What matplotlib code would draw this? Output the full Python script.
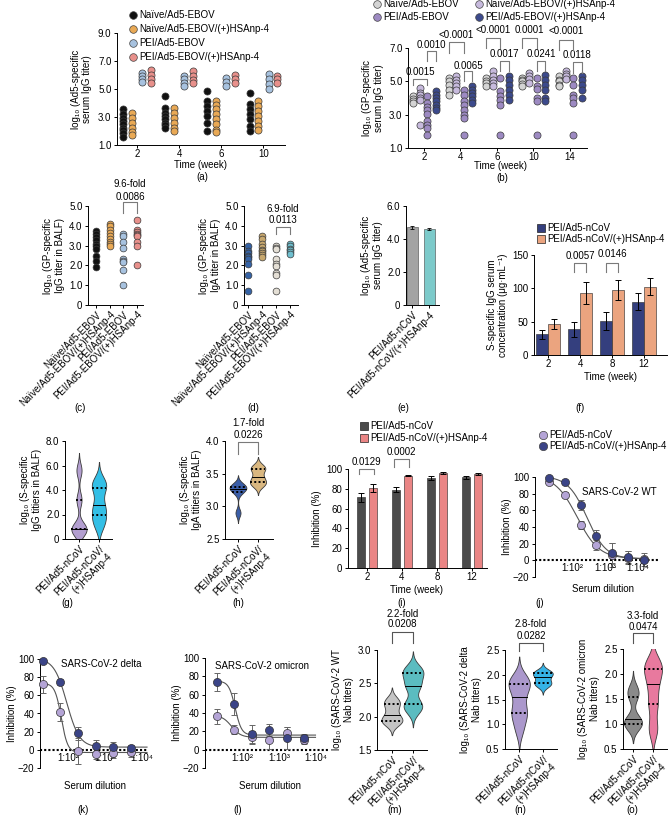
import numpy as np
import matplotlib
matplotlib.use('Agg')
import matplotlib.pyplot as plt
from matplotlib.lines import Line2D

plt.rcParams['font.family'] = ['Liberation Sans', 'DejaVu Sans']
plt.rcParams['font.size'] = 7
plt.rcParams['axes.linewidth'] = 0.7
plt.rcParams['xtick.major.width'] = 0.7
plt.rcParams['ytick.major.width'] = 0.7
plt.rcParams['xtick.major.size'] = 2.2
plt.rcParams['ytick.major.size'] = 2.5
plt.rcParams['xtick.major.pad'] = 1.0
plt.rcParams['ytick.major.pad'] = 1.5
plt.rcParams['axes.labelpad'] = 2
plt.rcParams['axes.spines.top'] = False
plt.rcParams['axes.spines.right'] = False

W, H = 669, 816
FS = 7

# ---------------- data ----------------
# (a) Ad5-specific serum IgG, EBOV groups
a_weeks = ['2', '4', '6', '10']
a_labels = ['Naïve/Ad5-EBOV', 'Naïve/Ad5-EBOV/(+)HSAnp-4', 'PEI/Ad5-EBOV', 'PEI/Ad5-EBOV/(+)HSAnp-4']
a_naive = [[3.55, 3.2, 2.95, 2.7, 2.5, 2.25, 2.05, 1.85, 1.6],
           [4.5, 3.65, 3.3, 3.05, 2.85, 2.6, 2.4, 2.25],
           [4.85, 4.15, 3.8, 3.45, 3.05, 2.6, 2.0],
           [4.75, 3.9, 3.55, 3.2, 2.85, 2.35, 2.0]]
a_naive_hsa = [[3.3, 2.95, 2.6, 2.25, 1.9, 1.75],
               [3.65, 3.3, 2.95, 2.6, 2.25, 2.0],
               [4.15, 3.85, 3.55, 3.2, 2.85, 2.5, 2.1, 1.95],
               [4.15, 3.8, 3.45, 3.05, 2.7, 2.35, 2.1]]
a_pei = [[6.15, 5.95, 5.7, 5.5],
         [5.95, 5.7, 5.45, 5.2],
         [5.8, 5.5, 5.2],
         [6.05, 5.7, 5.35, 5.0]]
a_pei_hsa = [[6.35, 6.0, 5.7, 5.45],
             [6.3, 5.95, 5.65, 5.45],
             [6.0, 5.7, 5.45],
             [5.95, 5.7, 5.45]]
a_colors = ['#111111', '#e9a955', '#a7c2df', '#e8908b']

# (b) GP-specific serum IgG
b_weeks = ['2', '4', '6', '10', '14']
b_naive = [[4.1, 3.95, 3.8, 3.7],
           [5.2, 5.0, 4.75, 4.5, 4.2],
           [5.2, 5.0, 4.9, 4.7],
           [5.2, 5.1, 5.0, 4.85, 4.7],
           [5.3, 5.1, 5.0, 4.8, 4.7]]
b_naive_hsa = [[4.6, 4.3, 4.15, 4.0, 3.9, 2.35],
               [5.3, 5.1, 4.9, 4.7, 4.5],
               [5.6, 5.3, 5.1, 4.9, 4.7],
               [5.5, 5.3, 5.15, 4.9],
               [5.6, 5.45, 5.3, 5.15]]
b_pei = [[4.1, 3.7, 3.45, 3.25, 3.05, 2.6, 2.4, 2.2, 1.75],
         [4.5, 4.2, 3.8, 3.6, 3.3, 3.0, 2.8, 1.75],
         [5.2, 4.4, 4.1, 3.9, 3.6, 1.75],
         [5.2, 4.7, 4.55, 4.0, 3.8, 1.75],
         [5.2, 4.8, 4.2, 4.0, 3.7, 1.75]]
b_pei_hsa = [[4.4, 4.2, 4.0, 3.8, 3.6, 3.4, 3.25],
             [4.7, 4.5, 4.3, 4.1, 3.9, 3.7],
             [5.3, 5.1, 4.8, 4.5, 4.2, 3.9],
             [5.35, 5.1, 4.8, 4.5, 4.0, 3.8],
             [5.3, 5.05, 4.8, 4.5, 4.0]]
b_labels = ['Naïve/Ad5-EBOV', 'Naïve/Ad5-EBOV/(+)HSAnp-4', 'PEI/Ad5-EBOV', 'PEI/Ad5-EBOV/(+)HSAnp-4']
b_colors = ['#d4d4d4', '#c7badd', '#9d8ac2', '#3c4a8c']
# p values: (naive vs PEI), (PEI vs PEI/HSAnp-4)
b_p_naive_pei = ['0.0015', '<0.0001', '<0.0001', '0.0001', '<0.0001']
b_p_pei_hsa = ['0.0010', '0.0065', '0.0017', '0.0241', '0.0118']

# (c) GP-specific IgG in BALF
c_vals = [[3.75, 3.6, 3.45, 3.3, 3.1, 3.0, 2.85, 2.5, 2.2, 1.9],
          [4.1, 4.0, 3.8, 3.65, 3.5, 3.35, 3.2, 3.1, 3.0],
          [3.6, 3.5, 3.2, 2.9, 2.3, 2.2, 2.15, 1.75, 1.0],
          [4.3, 3.8, 3.7, 3.6, 3.55, 3.5, 3.2, 3.0, 2.0]]
c_colors = ['#111111', '#e9a955', '#a7c2df', '#e8908b']

# (d) GP-specific IgA in BALF
d_vals = [[3.0, 2.75, 2.65, 2.5, 2.4, 2.3, 2.05, 1.5, 0.7],
          [3.5, 3.35, 3.1, 2.95, 2.8, 2.75, 2.65, 2.55, 2.4],
          [3.0, 2.9, 2.85, 2.3, 2.05, 1.95, 1.6, 1.5, 0.7],
          [3.1, 3.0, 2.85, 2.8, 2.7, 2.6]]
d_colors = ['#3563a6', '#c8a86e', '#e4dfd5', '#6fbfcf']

# (e) Ad5-specific serum IgG, nCoV
e_labels = ['PEI/Ad5-nCoV', 'PEI/Ad5-nCoV/(+)HSAnp-4']
e_mean = [4.7, 4.6]
e_err = [0.08, 0.06]
e_colors = ['#a3a3a3', '#7ccaca']

# (f) S-specific IgG serum concentration
f_weeks = ['2', '4', '8', '12']
f_pei = [31, 38.5, 51, 80]
f_pei_err = [6.5, 11.5, 13, 12.5]
f_hsa = [46, 92.5, 97.5, 102.5]
f_hsa_err = [7.5, 16.5, 15, 12.5]
f_labels = ['PEI/Ad5-nCoV', 'PEI/Ad5-nCoV/(+)HSAnp-4']
f_colors = ['#343f7e', '#eba47f']

# violin samples (g), (h), (m), (n), (o)
two_labels = ['PEI/Ad5-nCoV', 'PEI/Ad5-nCoV/\n(+)HSAnp-4']
g_pei = [0.7, 0.8, 0.85, 3.2, 5.6]
g_hsa = [1.2, 2.0, 2.8, 4.2, 4.6]
h_pei = [2.9, 3.22, 3.27, 3.3, 3.32]
h_hsa = [3.33, 3.37, 3.45, 3.57, 3.6]
m_pei = [1.93, 1.94, 1.95, 2.1, 2.22, 2.23]
m_hsa = [2.1, 2.16, 2.2, 2.46, 2.47, 2.65, 2.66, 2.72]
n_pei = [0.9, 1.2, 1.25, 1.55, 1.8, 1.83, 1.9]
n_hsa = [1.78, 1.82, 1.85, 1.95, 2.02, 2.04, 2.06]
o_pei = [0.98, 1.0, 1.1, 1.55, 1.7]
o_hsa = [0.9, 1.4, 1.8, 2.1, 2.2]

# (i) inhibition
i_weeks = ['2', '4', '8', '12']
i_pei = [71.4, 79, 91, 91.6]
i_pei_err = [4.4, 2.5, 1.7, 1.2]
i_hsa = [81, 93.3, 96, 95]
i_hsa_err = [3.8, 0.7, 0.7, 0.7]
i_colors = ['#4b4b4b', '#ea8585']

# (j)-(l) neutralisation curves
dil7 = [20, 60, 180, 540, 1620, 4860, 14580]
dil6 = [20, 60, 180, 540, 1620, 4860]
j_pei = [94.5, 78.5, 42.5, 18.5, 6.5, 3.2, 1.2]
j_pei_err = [3, 3, 5, 6, 14, 8, 8]
j_hsa = [99, 93.5, 66, 29, 9, 4, 1]
j_hsa_err = [2, 2, 6, 8, 12, 7, 3]
k_pei = [72, 41.5, -1.5, -4.5, -3.5, -2.5]
k_pei_err = [9, 10, 14, 6, 5, 5]
k_hsa = [98, 74.5, 18, 4, 3.5, 2]
k_hsa_err = [1, 3, 7, 7, 5, 3]
l_pei = [36.5, 22, 13.5, 11, 18.5, 11]
l_pei_err = [8, 5, 7, 10, 6, 5]
l_hsa = [74, 50, 17, 21.5, 12.5, 12.5]
l_hsa_err = [10, 12, 10, 7, 12, 5]
nab_colors = ['#b4a4d6', '#3b4487']


# ---------------- helpers ----------------
fig = plt.figure(figsize=(W / 100, H / 100), dpi=100)


def add_ax(l, t, r, b):
    return fig.add_axes([l / W, 1 - b / H, (r - l) / W, (b - t) / H])


def fxy(x, y):
    return x / W, 1 - y / H


def ftext(x, y, s, **kw):
    fx, fy = fxy(x, y)
    kw.setdefault('ha', 'center')
    kw.setdefault('va', 'center')
    kw.setdefault('fontsize', FS)
    fig.text(fx, fy, s, **kw)


def legend_item(x, y, label, color, marker='o', ms=5.5, edge='#444444'):
    fx, fy = fxy(x, y)
    fig.add_artist(Line2D([fx], [fy], marker=marker, ms=ms, mfc=color, mec=edge,
                          mew=0.5, ls='none', transform=fig.transFigure))
    ftext(x + 6, y, label, ha='left')


def dots(ax, x, vals, color, s=26):
    ax.scatter([x] * len(vals), vals, s=s, c=color, edgecolors='#3a3a3a',
               linewidths=0.5, zorder=3, clip_on=False)


def bracket(ax, x1, x2, top, bot, txt=None, ty=None, color='#7a7a7a', fs=FS):
    ax.plot([x1, x1, x2, x2], [bot, top, top, bot], color=color, lw=0.8,
            clip_on=False, zorder=4)
    if txt is not None:
        ax.text((x1 + x2) / 2, ty, txt, ha='center', va='center', fontsize=fs,
                clip_on=False)


def violin(ax, pos, vals, bw, color, half=0.42):
    v = np.asarray(vals, dtype=float)
    y = np.linspace(v.min() - 2.6 * bw, v.max() + 2.6 * bw, 300)
    d = np.exp(-0.5 * ((y[:, None] - v[None, :]) / bw) ** 2).sum(axis=1)
    w = d / d.max() * half
    ax.fill_betweenx(y, pos - w, pos + w, facecolor=color, edgecolor='#3a3a3a',
                     lw=0.6, zorder=2)
    q1, med, q3 = np.percentile(v, [25, 50, 75])
    for q, ls, lw in [(q1, (0, (1, 1.2)), 1.4), (q3, (0, (1, 1.2)), 1.4), (med, '-', 0.7)]:
        wq = np.interp(q, y, w)
        ax.plot([pos - wq, pos + wq], [q, q], color='k', ls=ls, lw=lw, zorder=3)


def cat_axis(ax, labels, xlim):
    ax.set_xlim(*xlim)
    ax.set_xticks(range(len(labels)))
    ax.set_xticklabels(labels, rotation=45, ha='right', rotation_mode='anchor',
                       fontsize=FS)


def fit4pl(dil, resp):
    lx = np.log10(np.asarray(dil, float))
    y = np.asarray(resp, float)
    best = None
    for c in np.linspace(0.3, 4.5, 85):
        for h in np.linspace(0.4, 5, 47):
            f = 1 / (1 + 10 ** ((lx - c) * h))
            A = np.column_stack([1 - f, f])
            coef, *_ = np.linalg.lstsq(A, y, rcond=None)
            sse = ((A @ coef - y) ** 2).sum()
            if best is None or sse < best[0]:
                best = (sse, c, h, coef[0], coef[1])
    return best[1:]


def nab_panel(ax, dil, pei, pei_err, hsa, hsa_err, xlim, xend, tag, tag_xy):
    ax.set_xscale('log')
    ax.set_xlim(*xlim)
    ax.set_ylim(-20, 100)
    ax.spines['bottom'].set_visible(False)
    ax.set_xticks([])
    ax.minorticks_off()
    ax.tick_params(axis='x', which='both', bottom=False, labelbottom=False)
    ax.set_yticks([-20, 0, 20, 40, 60, 80, 100])
    ax.set_yticklabels(['−20', '0', '20', '40', '60', '80', '100'])
    ax.axhline(0, color='k', lw=1.5, ls=(0, (1, 1)), zorder=1)
    xs = np.logspace(np.log10(dil[0]) - 0.05, np.log10(xend), 200)
    for vals, err, col in [(pei, pei_err, nab_colors[0]), (hsa, hsa_err, nab_colors[1])]:
        c, h, bot, top = fit4pl(dil, vals)
        ax.plot(xs, bot + (top - bot) / (1 + 10 ** ((np.log10(xs) - c) * h)),
                color='#555555', lw=0.8, zorder=2, clip_on=False)
        ax.errorbar(dil, vals, yerr=err, fmt='none', ecolor='#666666',
                    elinewidth=0.7, capsize=2.2, capthick=0.7, zorder=3)
        ax.scatter(dil, vals, s=34, c=col, edgecolors='#333333', linewidths=0.5,
                   zorder=4, clip_on=False)
    for d, lab in zip([100, 1000, 10000], ['1:10²', '1:10³', '1:10⁴']):
        ax.text(d, -9, lab, ha='center', va='center', fontsize=FS)
    ax.text(tag_xy[0], tag_xy[1], tag, transform=ax.transAxes, ha='left',
            va='center', fontsize=FS)
    ax.set_ylabel('Inhibition (%)', labelpad=1)


# ---------------- (a) ----------------
ax = add_ax(117, 33, 285, 145)
offs = [-0.33, -0.12, 0.12, 0.33]
for k in range(len(a_weeks)):
    for j, grp in enumerate([a_naive, a_naive_hsa, a_pei, a_pei_hsa]):
        dots(ax, k + offs[j], grp[k], a_colors[j])
ax.set_xlim(-0.47, 3.51)
ax.set_ylim(1, 9)
ax.set_xticks(range(len(a_weeks)))
ax.set_xticklabels(a_weeks)
ax.set_yticks([1, 3, 5, 7, 9])
ax.set_yticklabels(['1.0', '3.0', '5.0', '7.0', '9.0'])
ax.set_ylabel('log₁₀ (Ad5-specific\nserum IgG titer)', labelpad=4)
for j, lab in enumerate(a_labels):
    legend_item(133, 15 + j * 14, lab, a_colors[j])
ftext(200, 165, 'Time (week)')
ftext(202, 177, '(a)')

# ---------------- (b) ----------------
ax = add_ax(408, 48, 587, 148)
offs = [-0.31, -0.11, 0.09, 0.32]
for k in range(len(b_weeks)):
    for j, grp in enumerate([b_naive, b_naive_hsa, b_pei, b_pei_hsa]):
        dots(ax, k + offs[j], grp[k], b_colors[j])
ax.set_xlim(-0.44, 4.47)
ax.set_ylim(1, 7)
ax.set_xticks(range(len(b_weeks)))
ax.set_xticklabels(b_weeks)
ax.set_yticks([1, 3, 5, 7])
ax.set_yticklabels(['1.0', '3.0', '5.0', '7.0'])
ax.set_ylabel('log₁₀ (GP-specific\nserum IgG titer)', labelpad=4)
br_a = [(5.14, 4.8, 5.56), (7.34, 6.7, 7.8), (7.6, 7.0, 8.1), (7.6, 7.0, 8.1), (7.5, 6.9, 8.0)]
br_b = [(6.84, 6.2, 7.2), (5.6, 5.0, 5.94), (6.2, 5.6, 6.64), (6.2, 5.6, 6.64), (6.14, 5.5, 6.6)]
for k in range(len(b_weeks)):
    t, b_, ty = br_a[k]
    bracket(ax, k + offs[0], k + offs[2], t, b_, b_p_naive_pei[k], ty)
    t, b_, ty = br_b[k]
    bracket(ax, k + offs[2], k + offs[3], t, b_, b_p_pei_hsa[k], ty)
legend_item(377, 4, b_labels[0], b_colors[0])
legend_item(479, 4, b_labels[1], b_colors[1])
legend_item(377, 17, b_labels[2], b_colors[2])
legend_item(479, 17, b_labels[3], b_colors[3])
ftext(500, 166, 'Time (week)')
ftext(502, 178, '(b)')

# ---------------- (c) ----------------
ax = add_ax(88, 206, 143, 305)
for j, vals in enumerate(c_vals):
    dots(ax, j, vals, c_colors[j], s=24)
cat_axis(ax, a_labels, (-0.58, 3.43))
ax.set_ylim(0, 5)
ax.set_yticks([0, 1, 2, 3, 4, 5])
ax.set_yticklabels(['0', '1.0', '2.0', '3.0', '4.0', '5.0'])
ax.set_ylabel('log₁₀ (GP-specific\nIgG titer in BALF)', labelpad=3)
bracket(ax, 2, 3, 5.2, 4.65, '0.0086', 5.45)
ax.text(2.5, 6.1, '9.6-fold', ha='center', va='center', fontsize=FS)
ftext(80, 408, '(c)')

# ---------------- (d) ----------------
ax = add_ax(244, 206, 298, 305)
for j, vals in enumerate(d_vals):
    dots(ax, j, vals, d_colors[j], s=24)
cat_axis(ax, a_labels, (-0.3, 3.6))
ax.set_ylim(0, 5)
ax.set_yticks([0, 1, 2, 3, 4, 5])
ax.set_yticklabels(['0', '1.0', '2.0', '3.0', '4.0', '5.0'])
ax.set_ylabel('log₁₀ (GP-specific\nIgA titer in BALF)', labelpad=3)
bracket(ax, 2, 3, 3.95, 3.6, '0.0113', 4.3)
ax.text(2.5, 4.85, '6.9-fold', ha='center', va='center', fontsize=FS)
ftext(253, 408, '(d)')

# ---------------- (e) ----------------
ax = add_ax(406, 206, 439, 305)
ax.bar([0, 1], e_mean, width=0.7, color=e_colors, edgecolor='#444444', lw=0.4)
ax.errorbar([0, 1], e_mean, yerr=e_err, fmt='none', ecolor='k', elinewidth=0.6,
            capsize=1.5, capthick=0.6)
cat_axis(ax, e_labels, (-0.38, 1.56))
ax.set_ylim(0, 6)
ax.set_yticks([0, 2, 4, 6])
ax.set_yticklabels(['0', '2.0', '4.0', '6.0'])
ax.set_ylabel('log₁₀ (Ad5-specific\nserum IgG titer)', labelpad=3)
ftext(403, 408, '(e)')

# ---------------- (f) ----------------
ax = add_ax(534, 255, 667, 355)
xs = np.arange(len(f_weeks))
ax.bar(xs - 0.19, f_pei, width=0.37, color=f_colors[0], edgecolor='#222222', lw=0.4)
ax.bar(xs + 0.19, f_hsa, width=0.37, color=f_colors[1], edgecolor='#222222', lw=0.4)
ax.errorbar(xs - 0.19, f_pei, yerr=f_pei_err, fmt='none', ecolor='k', elinewidth=0.7,
            capsize=2, capthick=0.7)
ax.errorbar(xs + 0.19, f_hsa, yerr=f_hsa_err, fmt='none', ecolor='k', elinewidth=0.7,
            capsize=2, capthick=0.7)
ax.set_xlim(-0.44, 3.72)
ax.set_ylim(0, 150)
ax.set_xticks(xs)
ax.set_xticklabels(f_weeks)
ax.set_yticks([0, 50, 100, 150])
ax.set_ylabel('S-specific IgG serum\nconcentration (μg·mL⁻¹)', labelpad=3)
bracket(ax, 1 - 0.19, 1 + 0.19, 138, 125, '0.0057', 149)
bracket(ax, 2 - 0.19, 2 + 0.19, 138, 125, '0.0146', 151)
legend_item(541, 228, f_labels[0], f_colors[0], marker='s', ms=5.5, edge='#222222')
legend_item(541, 239, f_labels[1], f_colors[1], marker='s', ms=5.5, edge='#222222')
ftext(610, 377, 'Time (week)')
ftext(580, 408, '(f)')

# ---------------- (g) ----------------
ax = add_ax(65, 441, 112, 539)
violin(ax, 0, g_pei, 0.55, '#b39fd0', half=0.38)
violin(ax, 1, g_hsa, 0.65, '#33bfe6', half=0.36)
cat_axis(ax, two_labels, (-0.7, 1.65))
ax.set_ylim(0, 8)
ax.set_yticks([0, 2, 4, 6, 8])
ax.set_yticklabels(['0', '2.0', '4.0', '6.0', '8.0'])
ax.set_ylabel('log₁₀ (S-specific\nIgG titiers in BALF)', labelpad=3)
ftext(67, 603, '(g)')

# ---------------- (h) ----------------
ax = add_ax(225, 441, 273, 539)
violin(ax, 0, h_pei, 0.06, '#3b5ea8', half=0.42)
violin(ax, 1, h_hsa, 0.06, '#d9b780', half=0.4)
cat_axis(ax, two_labels, (-0.65, 1.75))
ax.set_ylim(2.5, 4)
ax.set_yticks([2.5, 3.0, 3.5, 4.0])
ax.set_ylabel('log₁₀ (S-specific\nIgA titiers in BALF)', labelpad=3)
bracket(ax, 0, 1, 3.98, 3.8, '0.0226', 4.09)
ax.text(0.5, 4.28, '1.7-fold', ha='center', va='center', fontsize=FS)
ftext(238, 603, '(h)')

# ---------------- (i) ----------------
ax = add_ax(348, 469, 487, 568)
xs = np.arange(len(i_weeks))
ax.bar(xs - 0.17, i_pei, width=0.23, color=i_colors[0], edgecolor='#222222', lw=0.4)
ax.bar(xs + 0.17, i_hsa, width=0.23, color=i_colors[1], edgecolor='#222222', lw=0.4)
ax.errorbar(xs - 0.17, i_pei, yerr=i_pei_err, fmt='none', ecolor='k', elinewidth=0.7,
            capsize=2, capthick=0.7)
ax.errorbar(xs + 0.17, i_hsa, yerr=i_hsa_err, fmt='none', ecolor='k', elinewidth=0.7,
            capsize=2, capthick=0.7)
ax.set_xlim(-0.54, 3.43)
ax.set_ylim(0, 100)
ax.set_xticks(xs)
ax.set_xticklabels(i_weeks)
ax.set_yticks([0, 20, 40, 60, 80, 100])
ax.set_ylabel('Inhibition (%)', labelpad=3)
bracket(ax, -0.24, 0.2, 99.7, 94.5, '0.0129', 107)
bracket(ax, 0.76, 1.2, 110, 102, '0.0002', 117)
legend_item(364, 426, f_labels[0], i_colors[0], marker='s', ms=5.5, edge='#222222')
legend_item(364, 438, f_labels[1], i_colors[1], marker='s', ms=5.5, edge='#222222')
ftext(417, 590, 'Time (week)')
ftext(402, 603, '(i)')

# ---------------- (j) ----------------
ax = add_ax(535, 477, 660, 577)
nab_panel(ax, dil7, j_pei, j_pei_err, j_hsa, j_hsa_err, (7.5, 46000), 16000,
          'SARS-CoV-2 WT', (0.38, 0.85))
legend_item(543, 435, f_labels[0], nab_colors[0], ms=6)
legend_item(543, 446, f_labels[1], nab_colors[1], ms=6)
ftext(603, 589, 'Serum dilution')
ftext(540, 603, '(j)')

# ---------------- (k) ----------------
ax = add_ax(40, 659, 147, 768)
nab_panel(ax, dil6, k_pei, k_pei_err, k_hsa, k_hsa_err, (16.6, 13650), 13650,
          'SARS-CoV-2 delta', (0.2, 0.95))
ftext(95, 786, 'Serum dilution')
ftext(83, 810, '(k)')

# ---------------- (l) ----------------
ax = add_ax(205, 658, 328, 768)
nab_panel(ax, dil6, l_pei, l_pei_err, l_hsa, l_hsa_err, (9.4, 22000), 10000,
          'SARS-CoV-2 omicron', (0.08, 0.93))
ftext(270, 786, 'Serum dilution')
ftext(238, 810, '(l)')

# ---------------- (m) ----------------
ax = add_ax(377, 650, 427, 750)
violin(ax, 0, m_pei, 0.08, '#c4c4c4', half=0.5)
violin(ax, 1, m_hsa, 0.1, '#5bbcc0', half=0.5)
cat_axis(ax, two_labels, (-0.71, 1.67))
ax.set_ylim(1.5, 3.0)
ax.set_yticks([1.5, 2.0, 2.5, 3.0])
ax.set_ylabel('log₁₀ (SARS-CoV-2 WT\nNab titers)', labelpad=3)
bracket(ax, 0, 1, 3.27, 3.1, '0.0208', 3.39, color='#555555')
ax.text(0.5, 3.54, '2.2-fold', ha='center', va='center', fontsize=FS)
ftext(395, 810, '(m)')

# ---------------- (n) ----------------
ax = add_ax(505, 650, 557, 749)
violin(ax, 0, n_pei, 0.18, '#ab98cc', half=0.45)
violin(ax, 1, n_hsa, 0.07, '#35b3e6', half=0.42)
cat_axis(ax, two_labels, (-0.6, 1.6))
ax.set_ylim(0.5, 2.5)
ax.set_yticks([0.5, 1.0, 1.5, 2.0, 2.5])
ax.set_ylabel('log₁₀ (SARS-CoV-2 delta\nNab titers)', labelpad=3)
bracket(ax, 0, 1, 2.65, 2.47, '0.0282', 2.78, color='#555555')
ax.text(0.5, 3.02, '2.8-fold', ha='center', va='center', fontsize=FS)
ftext(520, 810, '(n)')

# ---------------- (o) ----------------
ax = add_ax(623, 649, 667, 749)
violin(ax, 0, o_pei, 0.14, '#8a8a8a', half=0.45)
violin(ax, 1, o_hsa, 0.2, '#e8799e', half=0.45)
cat_axis(ax, two_labels, (-0.5, 1.7))
ax.set_ylim(0.5, 2.5)
ax.set_yticks([0.5, 1.0, 1.5, 2.0, 2.5])
ax.set_ylabel('log₁₀ (SARS-CoV-2 omicron\nNab titers)', labelpad=3)
bracket(ax, 0, 1, 2.82, 2.62, '0.0474', 2.95, color='#555555')
ax.text(0.5, 3.16, '3.3-fold', ha='center', va='center', fontsize=FS)
ftext(632, 810, '(o)')

fig.savefig('out.png', dpi=100)
